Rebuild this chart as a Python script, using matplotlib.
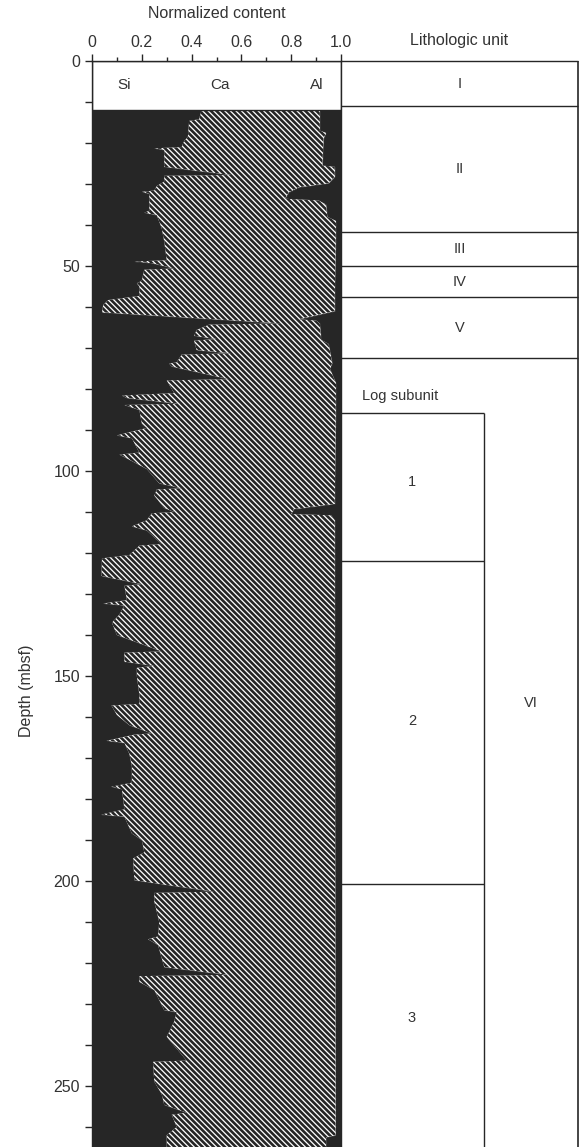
import matplotlib
matplotlib.use("Agg")
import matplotlib.pyplot as plt
from matplotlib.patches import Rectangle
import numpy as np

plt.rcParams['font.family'] = ['Liberation Sans', 'DejaVu Sans']
plt.rcParams['hatch.linewidth'] = 1.9

# ---------------- data ----------------
# Si fraction (left black area) vs depth (mbsf)
si_depth = [12.0, 14.2, 14.6, 18.5, 19.5, 21.0, 21.3, 21.7, 25.8, 27.8, 28.0, 29.4, 30.5, 31.6, 31.9,
            32.4, 36.5, 37.0, 37.6, 40.8, 44.0, 48.6, 48.9, 49.3, 50.6, 50.9, 53.6, 54.2, 55.0, 57.3,
            58.3, 59.5, 61.3, 64.0, 64.3, 65.6, 67.0, 67.8, 68.2, 70.5, 71.3, 71.6, 73.5, 73.8, 74.5,
            77.6, 77.9, 81.0, 81.6, 82.2, 83.6, 83.9, 85.1, 88.4, 89.5, 91.3, 92.0, 95.5, 96.0, 96.6,
            99.5, 103.0, 104.2, 104.5, 106.0, 109.0, 110.0, 110.3, 112.0, 113.5, 114.5, 117.8, 118.2,
            120.5, 121.3, 125.6, 127.6, 128.0, 131.5, 132.3, 132.8, 135.0, 137.0, 140.0, 144.0, 144.3,
            146.5, 147.5, 148.0, 150.0, 154.5, 156.8, 157.2, 159.5, 162.0, 164.0, 164.3, 165.8, 166.3,
            169.0, 172.0, 176.0, 177.0, 177.6, 182.5, 183.8, 184.3, 188.4, 190.0, 193.0, 194.5, 199.8,
            202.6, 202.9, 205.0, 210.0, 213.5, 214.2, 215.6, 221.0, 222.9, 223.2, 224.6, 226.6, 231.5,
            232.0, 234.3, 238.0, 241.6, 243.8, 244.1, 248.9, 252.0, 254.6, 256.5, 257.0, 260.0, 262.0,
            265.0]
si_frac = [0.44, 0.43, 0.39, 0.385, 0.37, 0.36, 0.25, 0.29, 0.29, 0.56, 0.29, 0.29, 0.26, 0.25, 0.20,
           0.23, 0.23, 0.21, 0.26, 0.28, 0.29, 0.30, 0.17, 0.24, 0.33, 0.21, 0.20, 0.18, 0.19, 0.19,
           0.065, 0.045, 0.04, 0.76, 0.47, 0.42, 0.41, 0.50, 0.41, 0.42, 0.56, 0.36, 0.34, 0.31, 0.32,
           0.55, 0.30, 0.33, 0.12, 0.14, 0.35, 0.13, 0.19, 0.20, 0.22, 0.10, 0.16, 0.19, 0.11, 0.13,
           0.22, 0.27, 0.36, 0.26, 0.25, 0.29, 0.33, 0.24, 0.22, 0.16, 0.22, 0.28, 0.19,
           0.15, 0.04, 0.038, 0.20, 0.13, 0.14, 0.045, 0.13, 0.11, 0.08, 0.10, 0.28, 0.13,
           0.13, 0.25, 0.18, 0.18, 0.19, 0.19, 0.078, 0.10, 0.15, 0.24, 0.17, 0.058, 0.13,
           0.15, 0.16, 0.16, 0.077, 0.12, 0.13, 0.037, 0.13, 0.16, 0.20, 0.21, 0.165, 0.17,
           0.49, 0.25, 0.25, 0.27, 0.265, 0.225, 0.265, 0.29, 0.55, 0.19, 0.19, 0.25, 0.29,
           0.34, 0.33, 0.30, 0.35, 0.38, 0.245, 0.25, 0.28, 0.29, 0.38, 0.32, 0.34, 0.30,
           0.30]

# Al fraction (right black area) vs depth (mbsf)
al_depth = [12.0, 17.0, 17.5, 18.9, 25.5, 25.8, 28.2, 29.8, 30.8, 32.0, 33.6, 34.0, 35.0, 38.0, 39.0,
            58.0, 61.0, 63.0, 63.3, 64.0, 68.0, 69.0, 73.7, 75.0, 78.6, 108.0, 109.3, 110.5, 110.8,
            112.0, 262.0, 262.5, 265.0]
al_frac = [0.085, 0.085, 0.06, 0.07, 0.075, 0.025, 0.025, 0.05, 0.17, 0.21, 0.225, 0.09, 0.06, 0.055, 0.02,
           0.025, 0.025, 0.17, 0.10, 0.085, 0.08, 0.05, 0.035, 0.045, 0.02, 0.025, 0.19, 0.20, 0.04,
           0.025, 0.022, 0.06, 0.06]

x_ticks = [0, 0.2, 0.4, 0.6, 0.8, 1.0]
x_ticklabels = ['0', '0.2', '0.4', '0.6', '0.8', '1.0']
depth_ticks = [0, 50, 100, 150, 200, 250]

header_bottom = 12.0
element_labels = ['Si', 'Ca', 'Al']
element_label_x = [0.128, 0.514, 0.904]

unit_bounds = [0, 11.0, 41.6, 49.9, 57.6, 72.5]
unit_labels = ['I', 'II', 'III', 'IV', 'V', 'VI']
unit_label_depth = [5.5, 26.3, 45.8, 53.8, 65.0, 156.6]

subunit_bounds = [85.8, 122.0, 200.8]
subunit_labels = ['1', '2', '3']
subunit_label_depth = [102.6, 161.0, 233.4]

# ---------------- figure ----------------
W, H = 579, 1147
fig = plt.figure(figsize=(W / 100, H / 100), dpi=100)
ink = '#262626'
txt = '#333333'
depth_max = (H - 61) / 4.1

ax = fig.add_axes([92 / W, 0, 249 / W, 1 - 61 / H])
ax.set_xlim(0, 1)
ax.set_ylim(depth_max, 0)

si_d = np.array(si_depth); si_v = np.array(si_frac)
al_d = np.array(al_depth); al_v = np.array(al_frac)

ax.fill_betweenx(si_d, 0, si_v, facecolor=ink, edgecolor=ink, linewidth=0.6, zorder=2)
ax.fill_betweenx(al_d, 1 - al_v, 1, facecolor=ink, edgecolor=ink, linewidth=0.6, zorder=2)
poly_x = np.concatenate([si_v, (1 - al_v)[::-1]])
poly_y = np.concatenate([si_d, al_d[::-1]])
ax.fill(poly_x, poly_y, facecolor='white', edgecolor=ink, hatch='\\' * 6, linewidth=0, zorder=3)

ax.add_patch(Rectangle((0, 0), 1, header_bottom, facecolor='white', edgecolor=ink, lw=1.0, zorder=4))
for lab, xx in zip(element_labels, element_label_x):
    ax.text(xx, 5.9, lab, ha='center', va='center', fontsize=11, color=txt, zorder=5)

ax.spines['bottom'].set_visible(False)
for s in ['top', 'left', 'right']:
    ax.spines[s].set_color(ink)
    ax.spines[s].set_linewidth(1.0)
    ax.spines[s].set_zorder(6)

ax.xaxis.tick_top()
ax.set_xticks(x_ticks)
ax.set_xticklabels(x_ticklabels)
ax.set_xticks(np.arange(0.1, 1.0, 0.2), minor=True)
ax.tick_params(axis='x', which='major', direction='out', length=5, width=1.0, pad=3,
               labelsize=11.5, colors=ink, labelcolor=txt)
ax.tick_params(axis='x', which='minor', direction='out', length=3, width=1.0, colors=ink)
ax.set_yticks(depth_ticks)
ax.set_yticks(np.arange(0, depth_max, 10), minor=True)
ax.tick_params(axis='y', which='both', direction='out', length=5, width=1.0, pad=3.5,
               labelsize=11.5, colors=ink, labelcolor=txt)
ax.tick_params(axis='y', which='minor', labelleft=False)

ax.text(0.5, 1 + (61 - 14) / (H - 61), 'Normalized content', transform=ax.transAxes,
        ha='center', va='center', fontsize=11.5, color=txt)
fig.text(27 / W, 1 - 691 / H, 'Depth (mbsf)', rotation=90, ha='center', va='center',
         fontsize=11.5, color=txt)

# ---------------- lithology column ----------------
ax2 = fig.add_axes([341 / W, 0, 237 / W, 1 - 61 / H])
ax2.set_xlim(0, 1)
ax2.set_ylim(depth_max, 0)
ax2.axis('off')
sub_x = (484 - 341) / 237
ax2.hlines(unit_bounds, 0, 1, colors=ink, lw=1.0, clip_on=False)
ax2.hlines(subunit_bounds, 0, sub_x, colors=ink, lw=1.0, clip_on=False)
ax2.vlines(sub_x, subunit_bounds[0], depth_max, colors=ink, lw=1.0, clip_on=False)
ax2.vlines(1, 0, depth_max, colors=ink, lw=1.2, clip_on=False)
for lab, d in zip(unit_labels[:-1], unit_label_depth[:-1]):
    ax2.text(0.5, d, lab, ha='center', va='center', fontsize=10.5, color=txt)
ax2.text((531 - 341) / 237, unit_label_depth[-1], unit_labels[-1], ha='center', va='center',
         fontsize=10.5, color=txt)
for lab, d in zip(subunit_labels, subunit_label_depth):
    ax2.text((412 - 341) / 237, d, lab, ha='center', va='center', fontsize=10.5, color=txt)
ax2.text((362 - 341) / 237, 81.7, 'Log subunit', ha='left', va='center', fontsize=10.5, color=txt)
ax2.text(0.5, 1 + (61 - 40) / (H - 61), 'Lithologic unit', transform=ax2.transAxes,
         ha='center', va='center', fontsize=11.5, color=txt)

fig.savefig('out.png', dpi=100)
